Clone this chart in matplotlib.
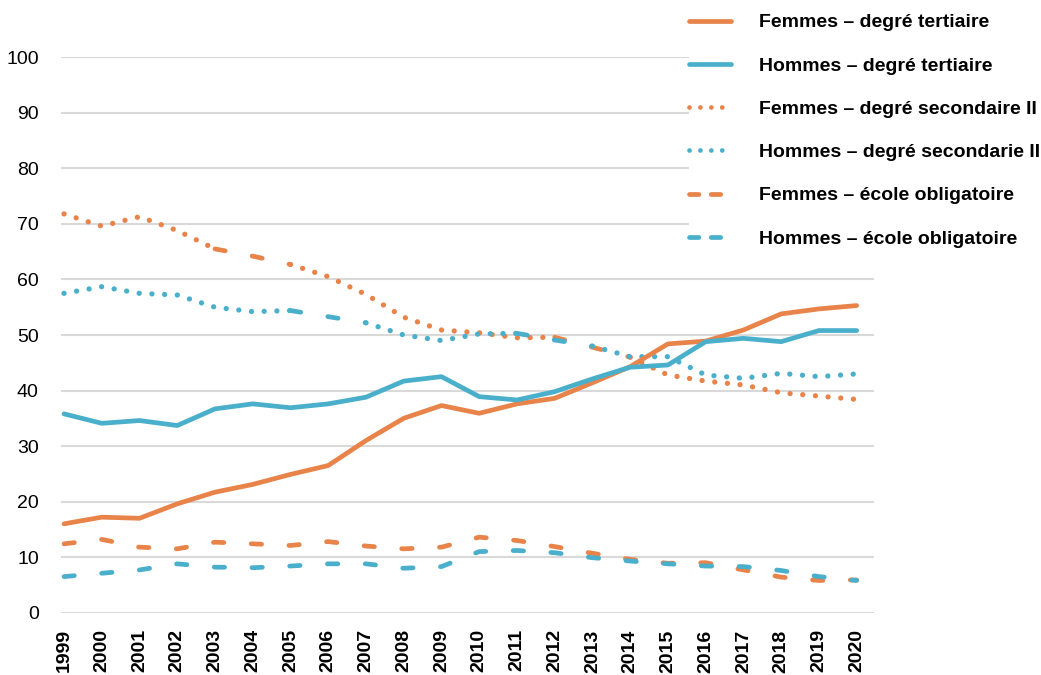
import numpy as np
import matplotlib
matplotlib.use('Agg')
import matplotlib.pyplot as plt
from matplotlib.lines import Line2D

plt.rcParams['font.family'] = ['Liberation Sans', 'DejaVu Sans']

ORANGE = '#E8834A'
BLUE = '#4AAFCB'

years = list(range(1999, 2021))

f_tert = [16.0, 17.2, 17.0, 19.6, 21.7, 23.1, 24.9, 26.5, 31.0, 35.0, 37.3,
          35.9, 37.6, 38.6, 41.4, 44.3, 48.4, 48.9, 50.9, 53.8, 54.7, 55.3]
h_tert = [35.8, 34.1, 34.6, 33.7, 36.7, 37.6, 36.9, 37.6, 38.8, 41.7, 42.5,
          38.9, 38.3, 39.8, 42.1, 44.2, 44.6, 48.8, 49.4, 48.8, 50.8, 50.8]
f_sec = [71.8, 69.6, 71.3, 68.8, 65.5, 64.2, 62.7, 60.5, 57.3, 53.2, 50.9,
         50.4, 49.5, 49.6, 47.8, 46.0, 42.8, 41.7, 41.0, 39.6, 39.0, 38.4]
h_sec = [57.5, 58.7, 57.5, 57.2, 55.0, 54.2, 54.4, 53.3, 52.2, 50.0, 49.0,
         50.2, 50.3, 49.1, 48.0, 46.1, 46.1, 42.8, 42.2, 43.1, 42.5, 43.0]
f_obl = [12.4, 13.2, 11.8, 11.5, 12.7, 12.4, 12.1, 12.8, 12.0, 11.5, 11.8,
         13.6, 13.0, 11.9, 10.7, 9.6, 8.9, 9.0, 7.7, 6.4, 5.8, 5.9]
h_obl = [6.5, 7.1, 7.7, 8.8, 8.2, 8.1, 8.4, 8.8, 8.8, 8.0, 8.3,
         11.0, 11.2, 10.8, 9.9, 9.3, 8.8, 8.4, 8.3, 7.6, 6.5, 5.8]

# portions of the secondaire II series drawn dashed in the original
f_sec_dashed = [(2003, 2005), (2012, 2014)]
h_sec_dashed = [(2005, 2007), (2011, 2013)]

labels = ['Femmes – degré tertiaire', 'Hommes – degré tertiaire',
          'Femmes – degré secondaire II', 'Hommes – degré secondarie II',
          'Femmes – école obligatoire', 'Hommes – école obligatoire']

LW = 3.4
LW_DOT = 3.8
DOT = (0.01, 2.4)
DASH = (2.2, 5.8)
LEG_DOT = (0.01, 2.3)
LEG_DASH = (2.0, 2.6)


def split_dashed(vals, spans):
    yrs = np.array(years)
    v = np.array(vals, dtype=float)
    dotted = v.copy()
    dashed = np.full(len(vals), np.nan)
    for a, b in spans:
        dotted[(yrs > a) & (yrs < b)] = np.nan
        span = (yrs >= a) & (yrs <= b)
        dashed[span] = v[span]
    return dotted, dashed


fig = plt.figure(figsize=(10.41, 6.75), dpi=100)
ax = fig.add_axes([0.0586, 0.0923, 0.781, 0.8228])

kw = dict(solid_capstyle='round', dash_capstyle='round', clip_on=False)
ax.plot(years, f_tert, color=ORANGE, lw=LW, zorder=5, **kw)
ax.plot(years, h_tert, color=BLUE, lw=LW, zorder=5, **kw)

for vals, spans, col in [(f_sec, f_sec_dashed, ORANGE), (h_sec, h_sec_dashed, BLUE)]:
    dotted, dashed = split_dashed(vals, spans)
    ax.plot(years, dotted, color=col, lw=LW_DOT, dashes=DOT, zorder=4, **kw)
    ax.plot(years, dashed, color=col, lw=LW, dashes=DASH, zorder=4, **kw)

ax.plot(years, f_obl, color=ORANGE, lw=LW, dashes=DASH, zorder=4, **kw)
ax.plot(years, h_obl, color=BLUE, lw=LW, dashes=DASH, zorder=4, **kw)

ax.set_xlim(1998.92, 2020.46)
ax.set_ylim(0, 100)
ax.set_yticks(range(0, 101, 10))
ax.set_xticks(years)
ax.set_xticklabels([str(y) for y in years], rotation=90, fontsize=14,
                   fontweight='bold')
ax.tick_params(axis='y', labelsize=14, length=0, pad=16)
ax.tick_params(axis='x', length=0, pad=12)
ax.grid(axis='y', color='#d9d9d9', lw=1.5)
ax.set_axisbelow(True)
for s in ax.spines.values():
    s.set_visible(False)

styles = [(ORANGE, None), (BLUE, None), (ORANGE, LEG_DOT), (BLUE, LEG_DOT),
          (ORANGE, LEG_DASH), (BLUE, LEG_DASH)]
handles = []
for col, d in styles:
    h = Line2D([], [], color=col, lw=LW, solid_capstyle='round',
               dash_capstyle='round')
    if d is not None:
        h.set_dashes(d)
    handles.append(h)

leg = fig.legend(handles, labels, loc='upper left',
                 bbox_to_anchor=(679 / 1041, 1 - 4 / 675),
                 frameon=True, facecolor='white', edgecolor='none',
                 framealpha=1, borderpad=0, handlelength=2.15,
                 handletextpad=1.45, labelspacing=1.32,
                 prop={'size': 14, 'weight': 'bold'})
leg.set_zorder(10)

fig.savefig('out.png', dpi=100)
